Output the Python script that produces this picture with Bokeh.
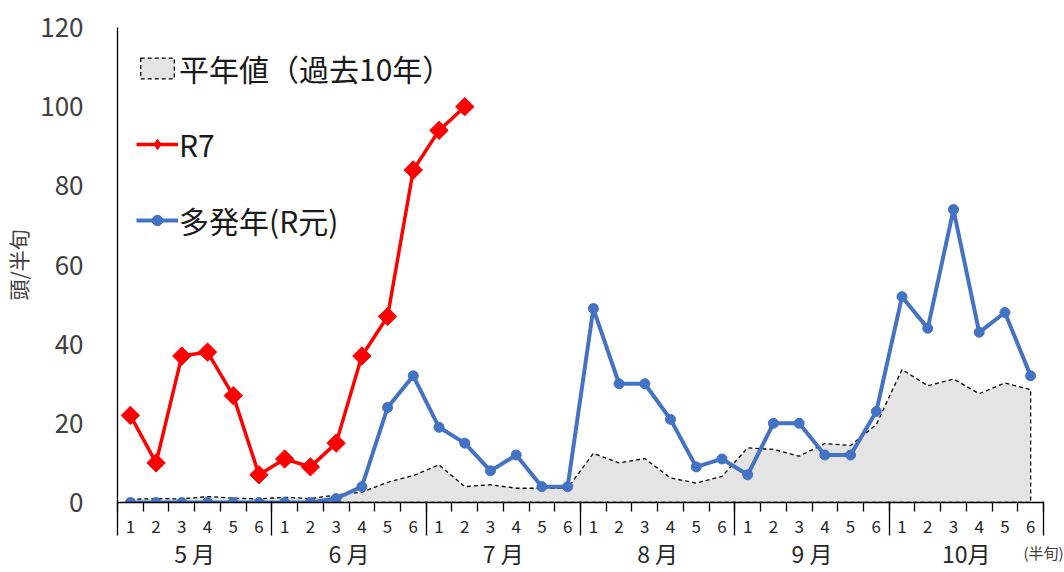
import numpy as np
from bokeh.plotting import figure
from bokeh.models import (Range1d, FixedTicker, LinearAxis, Legend, LegendItem,
                          CDSView, IndexFilter, ColumnDataSource)
from bokeh.embed import file_html
from bokeh.resources import INLINE

FONT = "Noto Sans CJK JP"

# ---- data ----
months = ["5 月", "6 月", "7 月", "8 月", "9 月", "10月"]
halves = ["1", "2", "3", "4", "5", "6"]
unit_text = "(半旬)"
y_ticks = [0, 20, 40, 60, 80, 100, 120]

# R7 (May 1st half-decade .. July 2nd)
r7 = [22, 10, 37, 38, 27, 7,
      11, 9, 15, 37, 47, 84,
      94, 100]

# 多発年 (R元)
r1 = [0, 0, 0, 0, 0, 0,
      0, 0, 1, 4, 24, 32,
      19, 15, 8, 12, 4, 4,
      49, 30, 30, 21, 9, 11,
      7, 20, 20, 12, 12, 23,
      52, 44, 74, 43, 48, 32]

# 平年値 (過去10年)
normal = [0.8, 1.0, 0.9, 1.5, 1.1, 0.9,
          1.3, 1.0, 1.9, 2.6, 5.1, 6.8,
          9.5, 4.0, 4.5, 3.6, 3.6, 3.6,
          12.4, 10.0, 11.1, 6.2, 4.9, 6.6,
          13.8, 13.4, 11.7, 14.9, 14.4, 19.7,
          33.6, 29.5, 31.2, 27.5, 30.2, 28.5]

n = len(months) * len(halves)
x = list(range(n))
x_r7 = x[:len(r7)]

p = figure(width=1064, height=572, output_backend="svg", toolbar_location=None,
           x_range=Range1d(-0.5, n - 0.5), y_range=Range1d(0, 120),
           min_border_left=115, min_border_right=21, min_border_top=27,
           min_border_bottom=70)
p.outline_line_color = None
p.grid.visible = False
p.background_fill_color = "white"

# area (平年値)
area_x = x + [x[-1], x[0]]
area_y = normal + [0, 0]
area_r = p.patch(area_x, area_y, fill_color="#e4e4e4", line_color="black",
                 line_width=1.3, line_dash="4 3")

# R7
red_src = ColumnDataSource(dict(x=x_r7, y=r7))
red_line = p.line("x", "y", source=red_src, line_color="#ff0000", line_width=3.5)
red_pts = p.scatter("x", "y", source=red_src, marker="square", size=13,
                    angle=np.pi / 4, fill_color="#ff0000", line_color="#ff0000")
# diamond key for the legend (one point, hidden under the first rotated square)
red_key = p.scatter("x", "y", source=red_src, view=CDSView(filter=IndexFilter([0])),
                    marker="diamond", size=13,
                    fill_color="#ff0000", line_color="#ff0000")

# 多発年
blue_line = p.line(x, r1, line_color="#4472c4", line_width=4)
blue_pts = p.scatter(x, r1, marker="circle", size=10,
                     fill_color="#4472c4", line_color="#4472c4")

# ---- y axis ----
ya = p.yaxis[0]
ya.ticker = FixedTicker(ticks=y_ticks)
ya.major_tick_out = 0
ya.major_tick_in = 0
ya.minor_tick_out = 0
ya.minor_tick_in = 0
ya.axis_line_color = "black"
ya.axis_line_width = 1.3
ya.major_label_standoff = 34
ya.major_label_text_font = FONT
ya.major_label_text_font_size = "26px"
ya.major_label_text_color = "#404040"
ya.axis_label = "頭/半旬"
ya.axis_label_text_font = FONT
ya.axis_label_text_font_size = "21px"
ya.axis_label_text_font_style = "normal"
ya.axis_label_text_color = "#404040"
ya.axis_label_standoff = 4

# ---- x axis: half-month numbers ----
boundaries = [i - 0.5 for i in range(n + 1)]
xa = p.xaxis[0]
xa.ticker = FixedTicker(ticks=x, minor_ticks=boundaries)
xa.major_label_overrides = {i: halves[i % len(halves)] for i in x}
xa.major_tick_out = 0
xa.major_tick_in = 0
xa.minor_tick_out = 9
xa.minor_tick_in = 0
xa.minor_tick_line_color = "black"
xa.minor_tick_line_width = 1.3
xa.axis_line_color = "black"
xa.axis_line_width = 1.5
xa.major_label_standoff = 8
xa.major_label_text_font = FONT
xa.major_label_text_font_size = "17px"
xa.major_label_text_color = "#262626"

# ---- x axis: months (+ unit note as its axis label) ----
m_centers = [i * len(halves) + (len(halves) - 1) / 2 for i in range(len(months))]
m_bounds = [i * len(halves) - 0.5 for i in range(len(months) + 1)]
ma = LinearAxis(ticker=FixedTicker(ticks=m_centers, minor_ticks=m_bounds))
ma.major_label_overrides = {c: m for c, m in zip(m_centers, months)}
ma.axis_line_color = None
ma.major_tick_out = 0
ma.major_tick_in = 0
ma.minor_tick_in = 34
ma.minor_tick_out = 0
ma.minor_tick_line_color = "black"
ma.minor_tick_line_width = 1.3
ma.major_label_standoff = 0
ma.major_label_text_font = FONT
ma.major_label_text_font_size = "23px"
ma.major_label_text_color = "#262626"
ma.axis_label = unit_text
ma.axis_label_text_font = FONT
ma.axis_label_text_font_size = "15px"
ma.axis_label_text_font_style = "normal"
ma.axis_label_text_color = "#404040"
ma.axis_label_standoff = -31
try:
    ma.axis_label_align = "end"
except Exception:
    pass
ma.axis_label_text_align = "center"
p.add_layout(ma, "below")

# ---- legend ----
legend = Legend(items=[
    LegendItem(label="平年値（過去10年）", renderers=[area_r]),
    LegendItem(label="R7", renderers=[red_line, red_key]),
    LegendItem(label="多発年(R元)", renderers=[blue_line, blue_pts]),
], location="top_left")
legend.label_text_font = FONT
legend.label_text_font_size = "30px"
legend.label_text_color = "#1a1a1a"
legend.glyph_width = 42
legend.glyph_height = 26
legend.label_height = 26
legend.label_standoff = 1
legend.spacing = 32
legend.margin = 19
legend.padding = 13
legend.background_fill_alpha = 0
legend.border_line_color = None
p.add_layout(legend)

open("out.html", "w").write(file_html(p, INLINE))
